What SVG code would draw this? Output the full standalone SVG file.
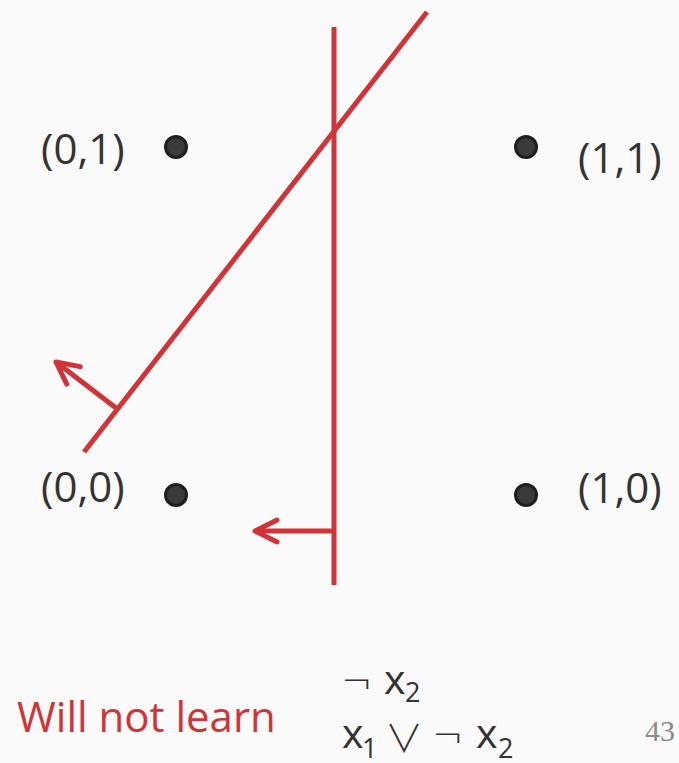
<svg xmlns="http://www.w3.org/2000/svg" width="679" height="763" viewBox="0 0 679 763">
<style>
.lbl{font-family:"Open Sans","Liberation Sans",sans-serif;font-size:42px;fill:#333}
.dot{fill:#3a3a3a;stroke:#1e1e1e;stroke-width:3}
.red{stroke:#d13438;stroke-width:5;fill:none}
.math{font-family:"Open Sans","DejaVu Sans",sans-serif;font-size:41px;fill:#333}
.sub{font-size:27px}
.neg{font-family:"DejaVu Sans ExtraLight","DejaVu Sans",sans-serif;font-weight:200;font-size:38px}
.or{font-family:"Noto Sans CJK JP","DejaVu Sans",sans-serif;font-weight:300;font-size:38px}
</style>
<defs>
<marker id="chev" markerUnits="userSpaceOnUse" viewBox="-26 -15 30 30" refX="0" refY="0" markerWidth="30" markerHeight="30" orient="auto">
<path d="M-22,-11 L0,0 L-22,11" fill="none" stroke="#d13438" stroke-width="5" stroke-linecap="round" stroke-linejoin="round"/>
</marker>
</defs>
<rect width="679" height="763" fill="#fafafa"/>
<g id="n01"><circle class="dot" cx="176" cy="147" r="10.5"/><text class="lbl" x="41" y="164">(0,1)</text></g>
<g id="n11"><circle class="dot" cx="526" cy="147" r="10.5"/><text class="lbl" x="578" y="173">(1,1)</text></g>
<g id="n00"><circle class="dot" cx="176" cy="495" r="10.5"/><text class="lbl" x="41" y="502">(0,0)</text></g>
<g id="n10"><circle class="dot" cx="526" cy="495" r="10.5"/><text class="lbl" x="578" y="503">(1,0)</text></g>
<g id="connectors">
<line class="red" x1="334" y1="27" x2="334" y2="585"/>
<line class="red" x1="427" y1="12" x2="84" y2="452"/>
<line class="red" x1="334" y1="531" x2="255" y2="531" marker-end="url(#chev)"/>
<line class="red" x1="116" y1="408" x2="56" y2="362" marker-end="url(#chev)"/>
</g>
<g id="captions">
<text x="17" y="732" style="font-family:'Open Sans','Liberation Sans',sans-serif;font-size:42px;fill:#d13438">Will not learn</text>
<text class="math" y="694"><tspan class="neg" x="341">¬</tspan><tspan x="384">x</tspan><tspan class="sub" x="405" y="702">2</tspan></text>
<text class="math" y="748"><tspan x="342">x</tspan><tspan class="sub" x="362" y="758">1</tspan><tspan class="or" x="385" y="752">∨</tspan><tspan class="neg" x="432" y="748">¬</tspan><tspan x="476">x</tspan><tspan class="sub" x="498" y="758">2</tspan></text>
<text x="675" y="741" text-anchor="end" style="font-family:'Liberation Serif',serif;font-size:30px;fill:#8a8a8a">43</text>
</g>
</svg>
